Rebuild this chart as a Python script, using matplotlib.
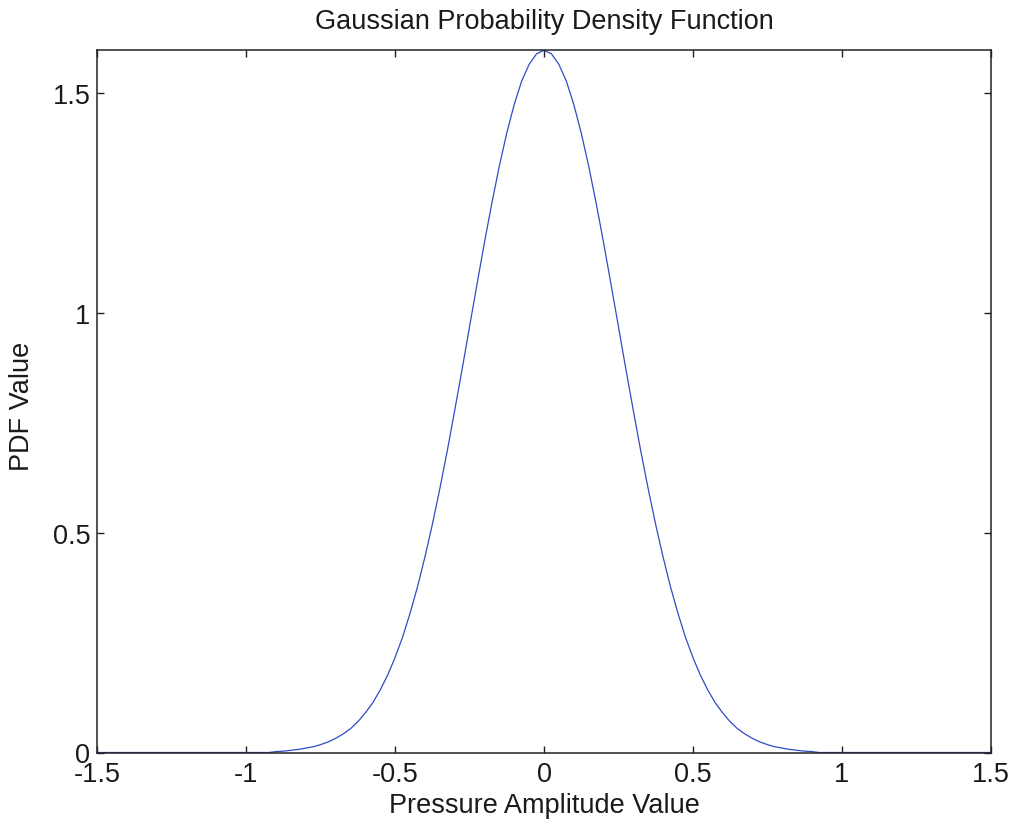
import numpy as np
import matplotlib
matplotlib.use("Agg")
import matplotlib.pyplot as plt

# Pressure amplitude grid (-1.5 .. 1.5, step 0.025)
x_values = np.linspace(-1.5, 1.5, 121)

# PDF values
pdf_values = [
    0, 0, 0, 0, 0, 0, 0, 0, 0, 0, 0, 0,
    0, 0, 0, 0, 0, 0, 0, 0, 0, 0, 0, 0,
    0.002, 0.003, 0.005, 0.007, 0.010, 0.013, 0.018, 0.024, 0.032, 0.042,
    0.054, 0.070, 0.090, 0.113, 0.142, 0.176, 0.216, 0.262, 0.316, 0.376,
    0.444, 0.518, 0.599, 0.685, 0.777, 0.871, 0.968, 1.064, 1.159, 1.249,
    1.333, 1.408, 1.473, 1.526, 1.564, 1.588, 1.596,
    1.588, 1.564, 1.526, 1.473, 1.408, 1.333,
    1.249, 1.159, 1.064, 0.968, 0.871, 0.777, 0.685, 0.599, 0.518, 0.444,
    0.376, 0.316, 0.262, 0.216, 0.176, 0.142, 0.113, 0.090, 0.070, 0.054,
    0.042, 0.032, 0.024, 0.018, 0.013, 0.010, 0.007, 0.005, 0.003, 0.002,
    0, 0, 0, 0, 0, 0, 0, 0, 0, 0, 0, 0,
    0, 0, 0, 0, 0, 0, 0, 0, 0, 0, 0, 0,
]

x_ticks = [-1.5, -1, -0.5, 0, 0.5, 1, 1.5]
x_tick_labels = ["-1.5", "-1", "-0.5", "0", "0.5", "1", "1.5"]
y_ticks = [0, 0.5, 1, 1.5]
y_tick_labels = ["0", "0.5", "1", "1.5"]

title = "Gaussian Probability Density Function"
x_label = "Pressure Amplitude Value"
y_label = "PDF Value"

plt.rcParams['font.family'] = ['Liberation Sans', 'DejaVu Sans']

W, H = 1013, 829
fig = plt.figure(figsize=(W / 100, H / 100), dpi=100)
fig.patch.set_facecolor("white")

left, right, top, bottom = 97.3, 990.7, 51.3, 753.5
ax = fig.add_axes([left / W, 1 - bottom / H, (right - left) / W, (bottom - top) / H])

ax.plot(x_values, pdf_values, color="#2f4cc4", linewidth=0.9)

ax.set_xlim(-1.5, 1.5)
ax.set_ylim(0, max(pdf_values))

fs = 19.5
ax.set_xticks(x_ticks)
ax.set_xticklabels(x_tick_labels, fontsize=fs, color="#1a1a1a")
ax.set_yticks(y_ticks)
ax.set_yticklabels(y_tick_labels, fontsize=fs, color="#1a1a1a")
ax.tick_params(direction="in", length=5, width=1.0, top=True, right=True,
               color="#222222")
ax.tick_params(axis="x", pad=6)
ax.tick_params(axis="y", pad=5)
for s in ax.spines.values():
    s.set_linewidth(1.1)
    s.set_color("#222222")

fig.text((left + right) / 2 / W, 1 - 22 / H, title, ha="center", va="center",
         fontsize=fs, color="#1a1a1a")
fig.text((left + right) / 2 / W, 1 - 806 / H, x_label, ha="center", va="center",
         fontsize=fs, color="#1a1a1a")
fig.text(22 / W, 1 - 406 / H, y_label, ha="center", va="center", rotation=90,
         fontsize=fs, color="#1a1a1a")

fig.savefig("out.png", dpi=100, facecolor="white")
